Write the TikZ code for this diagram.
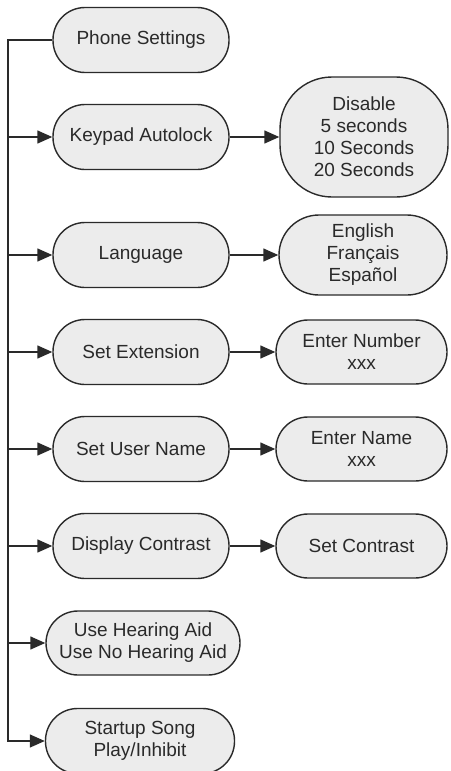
\documentclass[tikz,border=0pt]{standalone}
\usepackage{fontspec}
\setmainfont{Liberation Sans}
\usetikzlibrary{arrows.meta}
\definecolor{boxfill}{HTML}{ECECEC}
\definecolor{linecol}{HTML}{2A2A2A}
\tikzset{
  menubox/.style={draw=linecol, fill=boxfill, line width=1.4pt, rectangle,
    rounded corners=32pt, inner sep=0pt, align=center,
    font=\fontsize{19}{22}\selectfont, text=linecol},
  leftbox/.style={menubox, minimum width=176pt, minimum height=65pt},
  rightbox/.style={menubox, minimum width=171pt, minimum height=64pt},
  conn/.style={draw=linecol, line width=1.4pt},
  arr/.style={conn, -{Triangle[length=15pt,width=13pt]}}
}
\begin{document}
\begin{tikzpicture}[x=1pt,y=-1pt]
\useasboundingbox (0,0) rectangle (450,771);
% left column
\node[leftbox] (phone) at (141,40) {Phone Settings};
\node[leftbox] (keypad) at (141,137) {Keypad Autolock};
\node[leftbox] (lang) at (141,255) {Language};
\node[leftbox] (ext) at (141,352) {Set Extension};
\node[leftbox] (user) at (141,449) {Set User Name};
\node[leftbox] (disp) at (141,546) {Display Contrast};
\node[leftbox, minimum width=194pt, minimum height=64pt] (hear) at (143,643) {Use Hearing Aid\\Use No Hearing Aid};
\node[leftbox, minimum width=189pt] (song) at (140,741) {Startup Song\\Play/Inhibit};
% right column
\node[rightbox, minimum width=168pt, minimum height=120pt, rounded corners=52pt] (lock) at (364,137) {Disable\\5 seconds\\10 Seconds\\20 Seconds};
\node[rightbox, minimum width=168pt, minimum height=80pt, rounded corners=40pt] (langopt) at (363,255) {English\\Français\\Español};
\node[rightbox] (num) at (361.5,352) {Enter Number\\xxx};
\node[rightbox] (name) at (361.5,449) {Enter Name\\xxx};
\node[rightbox] (contrast) at (361.5,546) {Set Contrast};
% trunk
\coordinate (top) at (8,40);
\draw[arr, line join=miter] (phone.west) -- (top) |- (song.west);
\foreach \n in {keypad,lang,ext,user,disp,hear}
  \draw[arr] (top |- \n.west) -- (\n.west);
% right arrows
\draw[arr] (keypad) -- (lock);
\draw[arr] (lang) -- (langopt);
\draw[arr] (ext) -- (num);
\draw[arr] (user) -- (name);
\draw[arr] (disp) -- (contrast);
\end{tikzpicture}
\end{document}
